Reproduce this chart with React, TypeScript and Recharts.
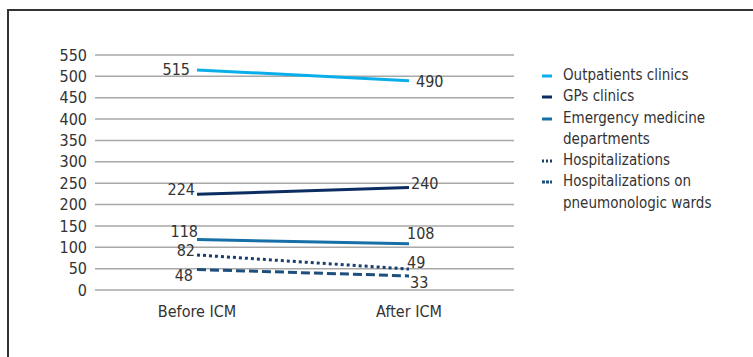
import React from 'react';
import { LineChart, Line, XAxis, YAxis, CartesianGrid, LabelList } from 'recharts';

const categories = ['Before ICM', 'After ICM'];
const outpatients = [515, 490];
const gpsClinics = [224, 240];
const emergency = [118, 108];
const hospitalizations = [82, 49];
const pneumoWards = [48, 33];
const yTicks = [0, 50, 100, 150, 200, 250, 300, 350, 400, 450, 500, 550];

const FONT = '"Liberation Sans Narrow", "DejaVu Sans Condensed", "Open Sans", sans-serif';

interface SeriesDef {
  key: string;
  name: string;
  values: number[];
  color: string;
  dash?: string;
  legendDash?: string;
  // label nudges for [before, after]
  dx: number[];
  dy: number[];
}

const series: SeriesDef[] = [
  { key: 'outpatients', name: 'Outpatients clinics', values: outpatients, color: '#0aaeea', dx: [-7, 7], dy: [0, 1] },
  { key: 'gps', name: 'GPs clinics', values: gpsClinics, color: '#0b2d62', dx: [-2, 2], dy: [-5, -4] },
  { key: 'emergency', name: 'Emergency medicine departments', values: emergency, color: '#1670a7', dx: [1, -2], dy: [-8, -10] },
  { key: 'hosp', name: 'Hospitalizations', values: hospitalizations, color: '#1a3e6e', dash: '3 3', legendDash: '2 2', dx: [-2, -2], dy: [-4, -7] },
  { key: 'pneumo', name: 'Hospitalizations on pneumonologic wards', values: pneumoWards, color: '#1c4f7c', dash: '9 4', legendDash: '3 1', dx: [-4, 1], dy: [6, 7] },
];

const data = categories.map((name, i) => {
  const row: any = { name };
  series.forEach((s) => { row[s.key] = s.values[i]; });
  return row;
});

const makeLabel = (s: SeriesDef) => (props: any) => {
  const { x, y, value, index } = props;
  return (
    <text
      x={x + s.dx[index]}
      y={y + s.dy[index]}
      textAnchor={index === 0 ? 'end' : 'start'}
      dominantBaseline="central"
      fontFamily={FONT}
      fontSize={16}
      fill="#333"
    >
      {value}
    </text>
  );
};

const LegendBox: React.FC = () => (
  <div style={{ position: 'absolute', left: 542, top: 65, fontFamily: FONT, fontSize: 15, color: '#333', lineHeight: '21.3px' }}>
    {series.map((s) => (
      <div key={s.key} style={{ display: 'flex', alignItems: 'flex-start' }}>
        <svg width={10} height={21} style={{ flex: '0 0 10px', marginRight: 11 }}>
          <line x1={0} x2={10} y1={11} y2={11} stroke={s.color} strokeWidth={3} strokeDasharray={s.legendDash} />
        </svg>
        <span style={{ width: 172 }}>{s.name}</span>
      </div>
    ))}
  </div>
);

const App: React.FC = () => (
  <div style={{ position: 'fixed', left: 0, top: 0, width: 753, height: 357, overflow: 'hidden', background: '#fff' }}>
    <div style={{ position: 'absolute', left: 7, top: 9, width: 800, height: 400, border: '2px solid #333' }} />
    <div style={{ position: 'absolute', left: 0, top: 0 }}>
      <LineChart width={753} height={357} data={data} margin={{ top: 55, right: 239, bottom: 37, left: 35 }}>
        <CartesianGrid vertical={false} stroke="#a8a8a8" strokeWidth={1.5} />
        <XAxis
          dataKey="name"
          axisLine={false}
          tickLine={false}
          padding={{ left: 102, right: 105 }}
          tickMargin={10}
          height={30}
          tick={{ fontFamily: FONT, fontSize: 16, fill: '#333' }}
        />
        <YAxis
          domain={[0, 550]}
          ticks={yTicks}
          interval={0}
          axisLine={false}
          tickLine={false}
          width={60}
          tick={{ fontFamily: FONT, fontSize: 16, fill: '#333' }}
        />
        {series.map((s) => (
          <Line
            key={s.key}
            dataKey={s.key}
            name={s.name}
            stroke={s.color}
            strokeWidth={3}
            strokeDasharray={s.dash}
            dot={false}
            activeDot={false}
            isAnimationActive={false}
          >
            <LabelList dataKey={s.key} content={makeLabel(s)} />
          </Line>
        ))}
      </LineChart>
    </div>
    <LegendBox />
  </div>
);

export default App;
